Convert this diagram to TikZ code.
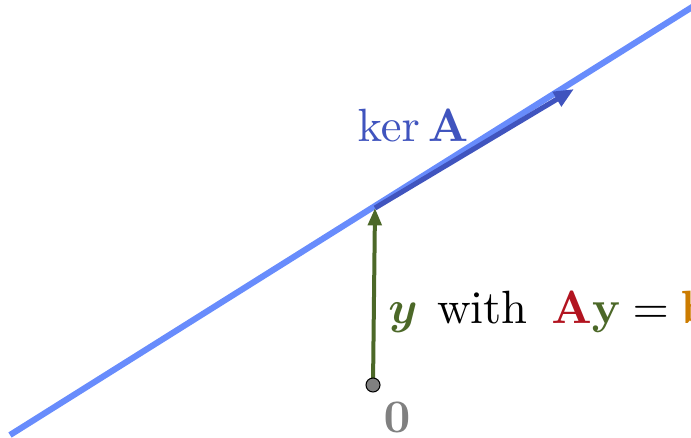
\documentclass[tikz,border=0pt]{standalone}
\usepackage{amsmath,amssymb,bm}
\usepackage{graphicx}
\usetikzlibrary{arrows.meta,calc}
\definecolor{KerLine}{RGB}{104,140,252}
\definecolor{KerBlue}{RGB}{64,84,190}
\definecolor{VecGreen}{RGB}{76,104,40}
\definecolor{MatRed}{RGB}{178,20,32}
\definecolor{RhsOrange}{RGB}{204,124,0}
\definecolor{OriginGrey}{RGB}{128,128,128}
\newcommand{\bigtxt}[1]{\scalebox{3.5}{#1}}

\begin{document}
\begin{tikzpicture}[
      x=0.75pt,y=-0.75pt,
      kerLine/.style={KerLine,line width=4.6pt},
      kerArrow/.style={-{Triangle[length=15pt,width=12pt]},KerBlue,line width=3.8pt},
      vecArrow/.style={-{Triangle[length=13pt,width=10pt]},VecGreen,line width=3pt},
      bigText/.style={font=\normalsize,inner sep=0pt}
    ]
    \useasboundingbox (0,0) rectangle (691,438);
    \clip (0,0) rectangle (691,438);

    % Kernel line through the particular solution
    \coordinate (lo) at (10,435);
    \coordinate (hi) at (705,-1);
    \draw[kerLine] (lo) -- (hi);

    % Points
    \coordinate (orig) at (373,385);
    \coordinate (ysol) at (375,208);
    \coordinate (kdir) at (574,89);

    % Direction of the kernel
    \draw[kerArrow] (ysol) -- (kdir);

    % Particular solution y
    \draw[vecArrow] (orig) -- (ysol);
    \node(dot)[circle,draw=black,fill=OriginGrey,line width=0.8pt,
               minimum size=10.5pt,inner sep=0pt] at (orig) {};

    % Labels
    \node(zero)[bigText,anchor=base] at (397,432)
      {\bigtxt{\color{OriginGrey}$\mathbf{0}$}};
    \node(ker)[bigText,anchor=base,text=KerBlue] at (413,142)
      {\bigtxt{$\ker\mathbf{A}$}};
    \node(eqn)[bigText,anchor=base west] at (388,323)
      {\bigtxt{$\color{VecGreen}\bm{y}$\hspace{0.42em}with\hspace{0.5em}$\color{MatRed}\mathbf{A}\color{VecGreen}\mathbf{y}\color{black}\mkern-0.5mu=\mkern-0.5mu\color{RhsOrange}\mathbf{b}$}};
  \end{tikzpicture}
\end{document}
